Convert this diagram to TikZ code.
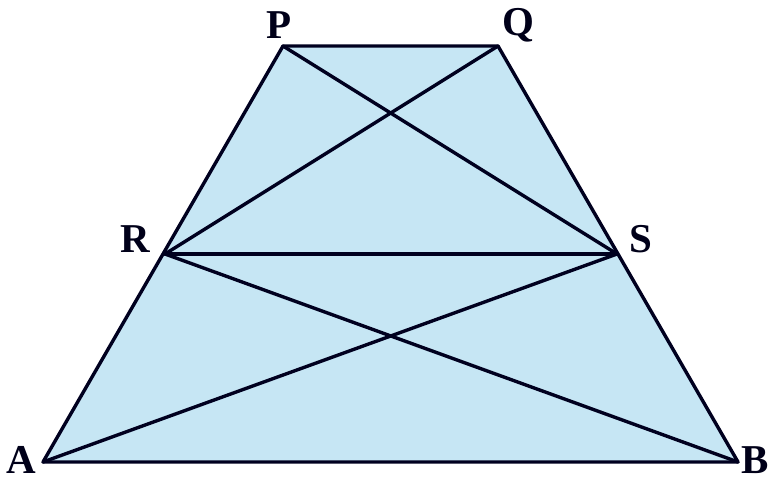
\documentclass[tikz,border=0pt]{standalone}
\usepackage{fontspec}
\setmainfont{Liberation Serif}
\begin{document}
\begin{tikzpicture}[x=1pt,y=-1pt,
  edge/.style={draw=black!88!blue, line width=3.4pt, line cap=round, line join=round},
  lbl/.style={font=\fontsize{41}{41}\selectfont\bfseries, text=black!90!blue, inner sep=0pt}]
\useasboundingbox (0,0) rectangle (773,481);
\definecolor{fillblue}{RGB}{198,230,244}
\coordinate (P) at (283,46);
\coordinate (Q) at (498,46);
\coordinate (R) at (165,254);
\coordinate (S) at (617,254);
\coordinate (A) at (43,462);
\coordinate (B) at (738,462);
\fill[fillblue] (P) -- (Q) -- (B) -- (A) -- cycle;
\draw[edge] (P) -- (Q) -- (B) -- (A) -- cycle;
\draw[edge] (P) -- (S);
\draw[edge] (Q) -- (R);
\draw[edge] (R) -- (S);
\draw[edge] (R) -- (B);
\draw[edge] (S) -- (A);
\node[lbl] (lP) at (279,25) {P};
\node[lbl] (lQ) at (518,25) {Q};
\node[lbl] (lR) at (135,239) {R};
\node[lbl] (lS) at (641,239) {S};
\node[lbl] (lA) at (21,460) {A};
\node[lbl] (lB) at (755,460) {B};
\end{tikzpicture}
\end{document}
